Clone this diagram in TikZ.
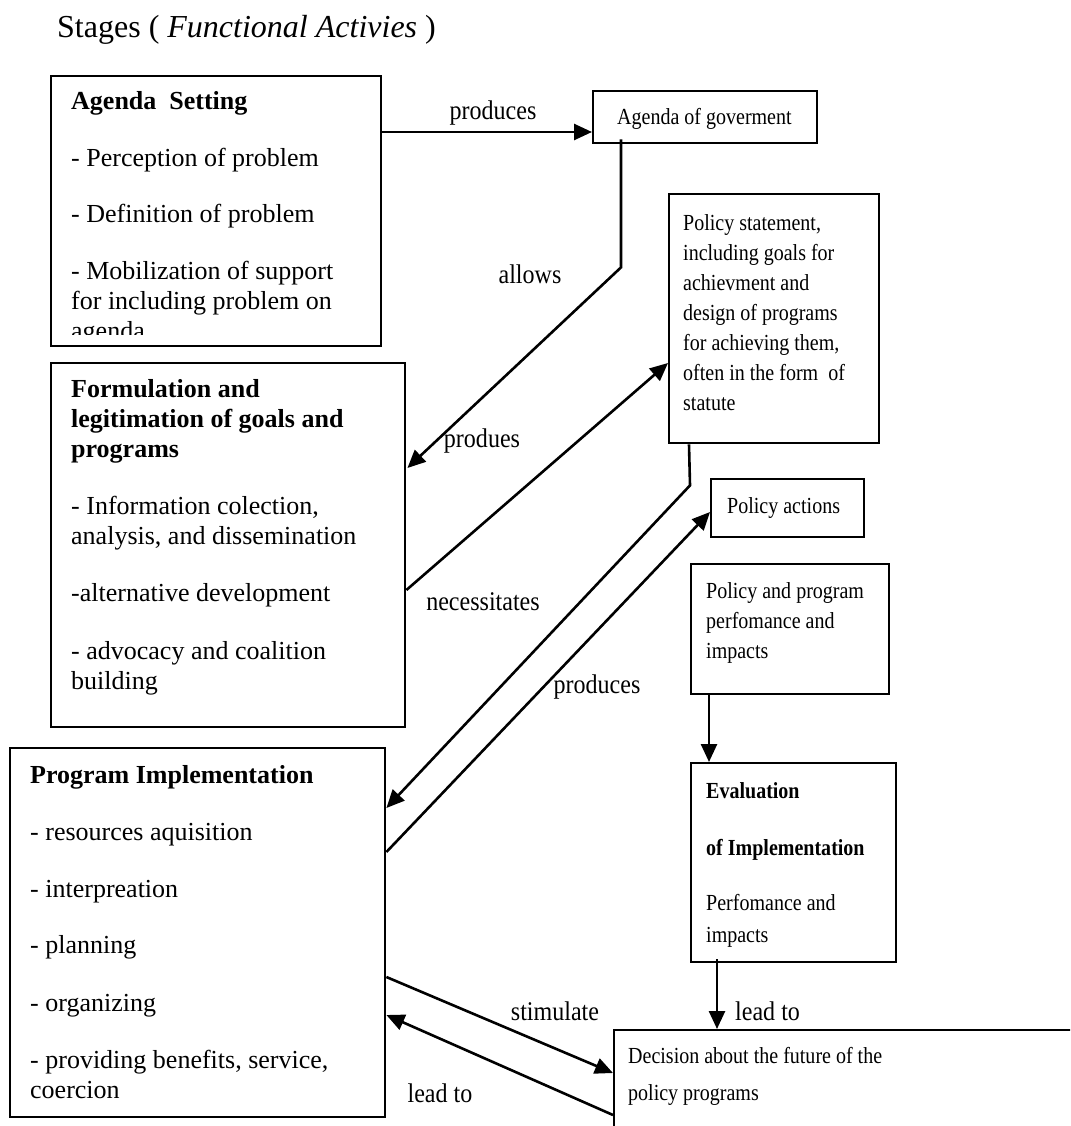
\documentclass[tikz,border=0pt]{standalone}
\usepackage{fontspec}
\setmainfont{Liberation Serif}
\newfontfamily\narrowfont[FakeStretch=0.87]{Liberation Serif}
\newfontfamily\labelfont[FakeStretch=0.89]{Liberation Serif}
\usetikzlibrary{arrows.meta,calc}
% a block of lines whose reference point is the baseline of its first line
\newcommand\txtblock[1]{\vtop{\hsize=420pt\parindent=0pt\rightskip=0pt plus 1fil #1\par}}
\tikzset{
  boxnode/.style={draw, line width=2.4pt, rectangle, anchor=north west, inner sep=0pt},
  lefttext/.style={anchor=base west, inner sep=0pt, font=\fontsize{26}{30}\selectfont},
  righttext/.style={anchor=base west, inner sep=0pt, font=\narrowfont\fontsize{23}{30}\selectfont},
  edgelabel/.style={anchor=base, inner sep=0pt, font=\labelfont\fontsize{27}{30}\selectfont},
  flow/.style={line width=2.6pt, -{Triangle[length=18pt,width=16pt]}}
}
\begin{document}
\begin{tikzpicture}[x=1pt,y=-1pt]
\useasboundingbox (0,0) rectangle (1070,1126);
\clip (0,0) rectangle (1070,1126);

% heading
\node[anchor=base west, inner sep=0pt, font=\fontsize{32}{36}\selectfont] (heading) at (57,38)
  {Stages ( \textit{Functional Activies} )};

% stage boxes on the left
\node[boxnode, minimum width=330pt, minimum height=270pt] (asb) at (50,75) {};
\node[boxnode, minimum width=354pt, minimum height=364pt] (form) at (50,362) {};
\node[boxnode, minimum width=375pt, minimum height=369pt] (impl) at (9,747) {};

% product boxes on the right
\node[boxnode, minimum width=224pt, minimum height=52pt] (gov) at (592,90) {};
\node[boxnode, minimum width=210pt, minimum height=249pt] (stmt) at (668,193) {};
\node[boxnode, minimum width=153pt, minimum height=58pt] (act) at (710,478) {};
\node[boxnode, minimum width=198pt, minimum height=130pt] (perf) at (690,563) {};
\node[boxnode, minimum width=205pt, minimum height=199pt] (eval) at (690,762) {};
\node[boxnode, minimum width=600pt, minimum height=300pt] (dec) at (613,1029) {};

% box texts
\begin{scope}
  \clip (50,75) rectangle (380,334);
  \node[lefttext] (asbtext) at (71,110) {\txtblock{\textbf{Agenda\ \ Setting}\\[26.5pt]
    - Perception of problem\\[26.5pt]
    - Definition of problem\\[26.5pt]
    - Mobilization of support\\
    for including problem on\\
    agenda}};
\end{scope}
\node[lefttext] (formtext) at (71,397) {\txtblock{\textbf{Formulation and}\\
  \textbf{legitimation of goals and}\\
  \textbf{programs}\\[27.5pt]
  - Information colection,\\
  analysis, and dissemination\\[27pt]
  -alternative development\\[27.5pt]
  - advocacy and coalition\\
  building}};
\node[lefttext] (impltext) at (30,783) {\txtblock{\textbf{Program Implementation}\\[27pt]
  - resources aquisition\\[27pt]
  - interpreation\\[26.5pt]
  - planning\\[27.5pt]
  - organizing\\[27pt]
  - providing benefits, service,\\
  coercion}};

\node[righttext] (govtext) at (617,125) {Agenda of goverment};
\node[righttext] (stmttext) at (683,230) {\txtblock{Policy statement,\\
  including goals for\\
  achievment and\\
  design of programs\\
  for achieving them,\\
  often in the form\ \ of\\
  statute}};
\node[righttext] (acttext) at (727,513) {Policy actions};
\node[righttext] (perftext) at (706,598) {\txtblock{Policy and program\\
  perfomance and\\
  impacts}};
\node[righttext] (evaltext) at (706,798) {\txtblock{\textbf{Evaluation}\\[27pt]
  \textbf{of Implementation}\\[25pt]
  Perfomance and\\[2pt]
  impacts}};
\node[righttext] (dectext) at (628,1063) {\txtblock{Decision about the future of the\\[7pt]
  policy programs}};

% connectors
\draw[flow] ($(asb.north east)+(0,57)$) -- ($(gov.north west)+(0,42)$);
\draw[flow] ($(gov.south west)+(29,-5)$) -- ($(gov.south west)+(29,123)$)
  -- ($(form.north east)+(1,106)$);
\draw[flow] ($(form.north east)+(0,228)$) -- ($(stmt.north west)+(0,170)$);
\draw[flow] ($(stmt.south west)+(21,0)$) -- ($(stmt.south west)+(22,41)$)
  -- ($(impl.north east)+(0,61)$);
\draw[flow] ($(impl.north east)+(0,105)$) -- ($(act.north west)+(0,34)$);
\draw[flow] ($(perf.south west)+(19,0)$) -- ($(eval.north west)+(19,0)$);
\draw[flow] ($(eval.south west)+(27,-4)$) -- ($(dec.north west)+(104,0)$);
\draw[flow] ($(impl.north east)+(0,230)$) -- ($(dec.north west)+(0,44)$);
\draw[flow] ($(dec.north west)+(0,86)$) -- ($(impl.north east)+(0,268)$);

% connector labels
\node[edgelabel] (lproduces) at (493,120) {produces};
\node[edgelabel] (lallows) at (530,283) {allows};
\node[edgelabel] (lprodues) at (482,447) {produes};
\node[edgelabel] (lnecessitates) at (483,610) {necessitates};
\node[edgelabel] (lproduces2) at (597,693) {produces};
\node[edgelabel, anchor=base west] (lleadto) at (735,1020) {lead to};
\node[edgelabel] (lstimulate) at (555,1020) {stimulate};
\node[edgelabel] (lleadto2) at (440,1102) {lead to};
\end{tikzpicture}
\end{document}
